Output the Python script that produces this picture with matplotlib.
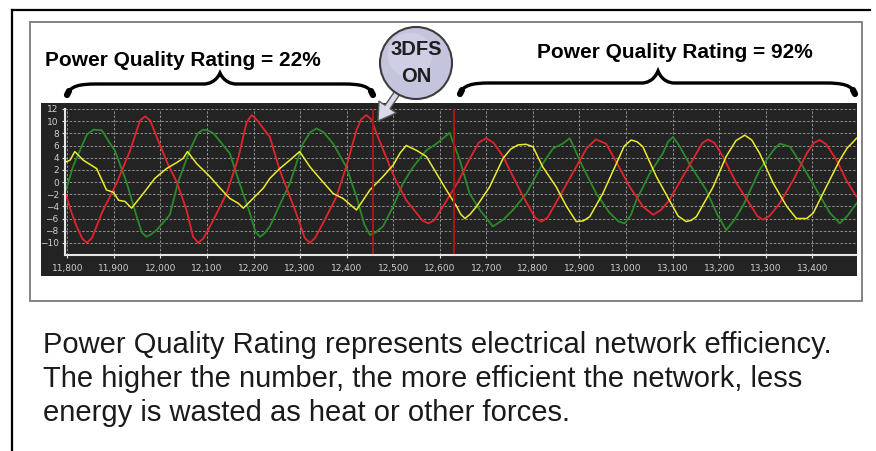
import numpy as np
import matplotlib
matplotlib.use('Agg')
import matplotlib.pyplot as plt
from matplotlib.patches import Rectangle, Circle, FancyArrow, PathPatch
from matplotlib.path import Path

# Data gelombang tiga fasa
red_x = [11797, 11808, 11820, 11832, 11842, 11853, 11874, 11907, 11935, 11956,
         11967, 11978, 11992, 12015, 12035, 12056, 12070, 12081, 12092, 12110,
         12142, 12167, 12185, 12196, 12207, 12235, 12256, 12289, 12310, 12321,
         12332, 12349, 12378, 12399, 12421, 12431, 12442, 12453, 12464, 12493,
         12507, 12528, 12550, 12562, 12575, 12588, 12607, 12639, 12664, 12684,
         12700, 12716, 12736, 12754, 12779, 12805, 12818, 12831, 12857, 12893,
         12915, 12935, 12957, 12979, 13008, 13036, 13058, 13075, 13093, 13122,
         13151, 13164, 13176, 13190, 13208, 13237, 13269, 13282, 13294, 13308,
         13330, 13359, 13388, 13403, 13416, 13430, 13452, 13473, 13495]
red_y = [-2.1, -4.8, -7.3, -9.3, -10.0, -9.2, -5.1, 0.0, 5.2, 10.1,
         10.8, 10.1, 7.4, 3.1, 0.0, -4.6, -9.0, -10.0, -9.3, -6.8,
         -1.9, 3.9, 9.8, 11.0, 10.2, 7.4, 2.0, -4.6, -9.2, -10.0,
         -9.2, -6.8, -2.4, 2.5, 8.5, 10.3, 11.0, 10.3, 8.0, 2.5,
         0.0, -3.0, -5.1, -6.3, -6.8, -6.3, -4.0, 0.0, 3.8, 6.5,
         7.2, 6.4, 4.2, 1.4, -2.4, -5.9, -6.5, -5.9, -2.4, 2.5,
         5.5, 7.0, 6.3, 3.3, -0.8, -4.0, -5.4, -4.6, -3.0, 0.9,
         4.7, 6.4, 7.0, 6.4, 4.2, -0.2, -4.0, -5.6, -6.2, -5.6,
         -3.5, 0.3, 4.7, 6.4, 6.9, 6.2, 3.6, 0.3, -2.4]

green_x = [11797, 11812, 11827, 11842, 11856, 11874, 11892, 11902, 11927, 11949,
           11960, 11970, 11980, 11992, 12020, 12038, 12063, 12080, 12092, 12104,
           12114, 12149, 12169, 12192, 12204, 12214, 12224, 12235, 12256, 12278,
           12306, 12322, 12335, 12350, 12371, 12399, 12421, 12438, 12450, 12462,
           12478, 12500, 12521, 12543, 12571, 12593, 12621, 12643, 12664, 12686,
           12714, 12736, 12757, 12786, 12821, 12843, 12864, 12879, 12907, 12936,
           12965, 12984, 12997, 13010, 13022, 13051, 13079, 13090, 13101, 13114,
           13136, 13172, 13195, 13215, 13232, 13252, 13287, 13316, 13330, 13352,
           13380, 13409, 13438, 13459, 13475, 13495]
green_y = [-1.3, 2.5, 5.2, 7.8, 8.6, 8.5, 6.3, 5.2, 0.0, -5.7,
           -8.3, -9.0, -8.6, -7.9, -5.4, 0.0, 5.2, 8.0, 8.6, 8.4,
           8.0, 4.7, 0.0, -5.1, -8.2, -9.0, -8.4, -7.3, -3.8, -0.2,
           6.3, 8.2, 8.8, 8.2, 6.3, 2.5, -2.4, -7.0, -8.7, -8.3,
           -7.3, -4.0, -0.2, 2.5, 5.2, 6.3, 8.1, 3.6, -1.9, -4.6,
           -7.3, -6.2, -4.6, -1.9, 3.0, 5.5, 6.3, 7.2, 2.5, -1.9,
           -5.1, -6.5, -6.8, -5.5, -3.0, 1.4, 4.7, 6.6, 7.4, 6.0,
           3.0, -1.3, -5.2, -7.9, -6.3, -3.8, 2.0, 5.2, 6.3, 5.8,
           2.5, -1.3, -5.1, -6.8, -5.6, -3.5]

yellow_x = [11797, 11806, 11816, 11834, 11863, 11884, 11899, 11910, 11924, 11938,
            11963, 11988, 12013, 12035, 12049, 12058, 12078, 12106, 12128, 12139,
            12149, 12167, 12178, 12221, 12235, 12256, 12278, 12299, 12321, 12349,
            12371, 12392, 12421, 12450, 12478, 12500, 12515, 12528, 12550, 12571,
            12593, 12614, 12636, 12645, 12654, 12665, 12679, 12707, 12736, 12752,
            12768, 12785, 12800, 12821, 12850, 12872, 12893, 12908, 12922, 12950,
            12979, 12996, 13011, 13024, 13036, 13065, 13093, 13112, 13129, 13140,
            13151, 13187, 13215, 13236, 13255, 13270, 13287, 13316, 13345, 13366,
            13388, 13402, 13430, 13459, 13475, 13488, 13495]
yellow_y = [3.3, 3.6, 5.0, 3.6, 2.2, -1.3, -1.7, -3.0, -3.2, -4.3,
            -1.9, 0.6, 2.2, 3.2, 3.9, 5.0, 3.0, 0.9, -1.0, -1.9,
            -2.7, -3.5, -4.3, -1.0, 0.6, 2.2, 3.6, 5.0, 2.5, 0.0,
            -1.9, -2.7, -4.6, -1.3, 0.9, 2.8, 4.8, 6.0, 5.2, 4.2,
            1.4, -1.3, -4.0, -5.3, -6.0, -5.3, -4.0, -0.8, 3.9, 5.4,
            6.1, 6.2, 5.8, 2.5, -0.8, -4.0, -6.5, -6.4, -5.7, -1.9,
            3.0, 5.9, 6.9, 6.6, 5.8, 0.9, -3.0, -5.6, -6.5, -6.3,
            -5.7, -0.8, 4.2, 6.8, 7.7, 6.9, 4.7, -0.2, -4.0, -6.0,
            -6.0, -5.1, -0.8, 3.6, 5.6, 6.6, 7.2]

marker_x = [12456, 12631]   # garis merah: 3DFS on
x_ticks = list(range(11800, 13401, 100))
y_ticks = list(range(-10, 13, 2))

rating_labels = ["Power Quality Rating = 22%", "Power Quality Rating = 92%"]
bubble_text = "3DFS\nON"
caption = ("Power Quality Rating represents electrical network efficiency.\n"
           "The higher the number, the more efficient the network, less\n"
           "energy is wasted as heat or other forces.")

W, H = 876, 451
fig = plt.figure(figsize=(W / 100, H / 100), dpi=100)
fig.patch.set_facecolor('white')


def px_axes(left, top, right, bottom):
    return [left / W, 1 - bottom / H, (right - left) / W, (bottom - top) / H]


# Latar: bingkai dan panel gelap
bg = fig.add_axes([0, 0, 1, 1])
bg.set_xlim(0, W)
bg.set_ylim(H, 0)
bg.axis('off')
bg.plot([12, 12], [10, H], color='black', lw=1.6)
bg.plot([12, 870], [10, 10], color='black', lw=1.6)
bg.add_patch(Rectangle((30, 22), 832, 279, fill=False, ec='#7a7a7a', lw=1.3))
bg.add_patch(Rectangle((41, 103), 816, 173, fc='#232323', ec='none'))

# Grafik osiloskop
ax = fig.add_axes(px_axes(65, 109, 857, 255))
ax.set_facecolor('#232323')
ax.plot(green_x, green_y, color='#2a8a2a', lw=1.3)
ax.plot(red_x, red_y, color='#e3232b', lw=1.3)
ax.plot(yellow_x, yellow_y, color='#ecec2c', lw=1.1)
for mx in marker_x:
    ax.axvline(mx, color='#b01515', lw=1.4)
ax.set_xlim(11795, 13496)
ax.set_ylim(-12, 12)
ax.set_xticks(x_ticks)
ax.set_xticklabels([f"{t:,}" for t in x_ticks])
ax.set_yticks(y_ticks)
ax.grid(True, color='#a0a0a0', lw=0.6, ls=(0, (3, 2)))
for s in ['top', 'right']:
    ax.spines[s].set_visible(False)
for s in ['left', 'bottom']:
    ax.spines[s].set_color('#e6e6e6')
    ax.spines[s].set_linewidth(1.5)
ax.tick_params(colors='#e6e6e6', labelcolor='#cfcfcf', labelsize=6.5, length=2.5, width=0.8, pad=2)
ax.tick_params(axis='x', pad=4)

# Lapisan atas: teks, kurung kurawal, gelembung
top = fig.add_axes([0, 0, 1, 1])
top.set_xlim(0, W)
top.set_ylim(H, 0)
top.axis('off')
top.patch.set_alpha(0)

top.text(45, 60, rating_labels[0], fontsize=15, fontweight='bold',
         family='Liberation Sans', va='center', ha='left')
top.text(537, 52, rating_labels[1], fontsize=15, fontweight='bold',
         family='Liberation Sans', va='center', ha='left')


def brace(x0, x1, xm, yh, ytip, ycusp):
    verts = [(x0, ytip), (x0 + 3, yh + 2), (x0 + 12, yh), (x0 + 30, yh),
             (xm - 16, yh), (xm - 12, yh), (xm - 4, yh - 2), (xm, ycusp),
             (xm + 4, yh - 2), (xm + 12, yh), (xm + 16, yh),
             (x1 - 30, yh), (x1 - 12, yh), (x1 - 3, yh + 2), (x1, ytip)]
    codes = [Path.MOVETO, Path.CURVE4, Path.CURVE4, Path.CURVE4,
             Path.LINETO, Path.CURVE4, Path.CURVE4, Path.CURVE4,
             Path.CURVE4, Path.CURVE4, Path.CURVE4,
             Path.LINETO, Path.CURVE4, Path.CURVE4, Path.CURVE4]
    top.add_patch(PathPatch(Path(verts, codes), fill=False, ec='black', lw=2.4,
                            capstyle='round'))
    # ujung yang lebih tebal
    top.plot([x0, x0 + 2], [ytip, ytip - 4], color='black', lw=4.5, solid_capstyle='round')
    top.plot([x1, x1 - 2], [ytip, ytip - 4], color='black', lw=4.5, solid_capstyle='round')


brace(67, 373, 220, 84, 95, 73)
brace(460, 855, 658, 83, 94, 71)

# Panah dan gelembung 3DFS
cx, cy, r = 416, 63, 36
top.add_patch(FancyArrow(cx - 12, cy + 20, 378 - (cx - 12), 121 - (cy + 20), width=6,
                         head_width=21, head_length=17, length_includes_head=True,
                         fc='#d9d9ea', ec='#555555', lw=1.0))
top.add_patch(Circle((cx, cy), r, fc='#c4c4dc', ec='#3c3c3c', lw=1.5))
top.add_patch(Circle((cx - 6, cy - 8), r * 0.62, fc='#d6d6ea', ec='none', alpha=0.6))
top.text(cx, cy, bubble_text, fontsize=14.5, fontweight='bold', family='Liberation Sans',
         ha='center', va='center', color='#1e1e1e', linespacing=1.55)

top.text(43, 379, caption, fontsize=21, family='Liberation Sans', ha='left',
         va='center', color='#1a1a1a', linespacing=1.27)

fig.savefig('out.png', dpi=100)
